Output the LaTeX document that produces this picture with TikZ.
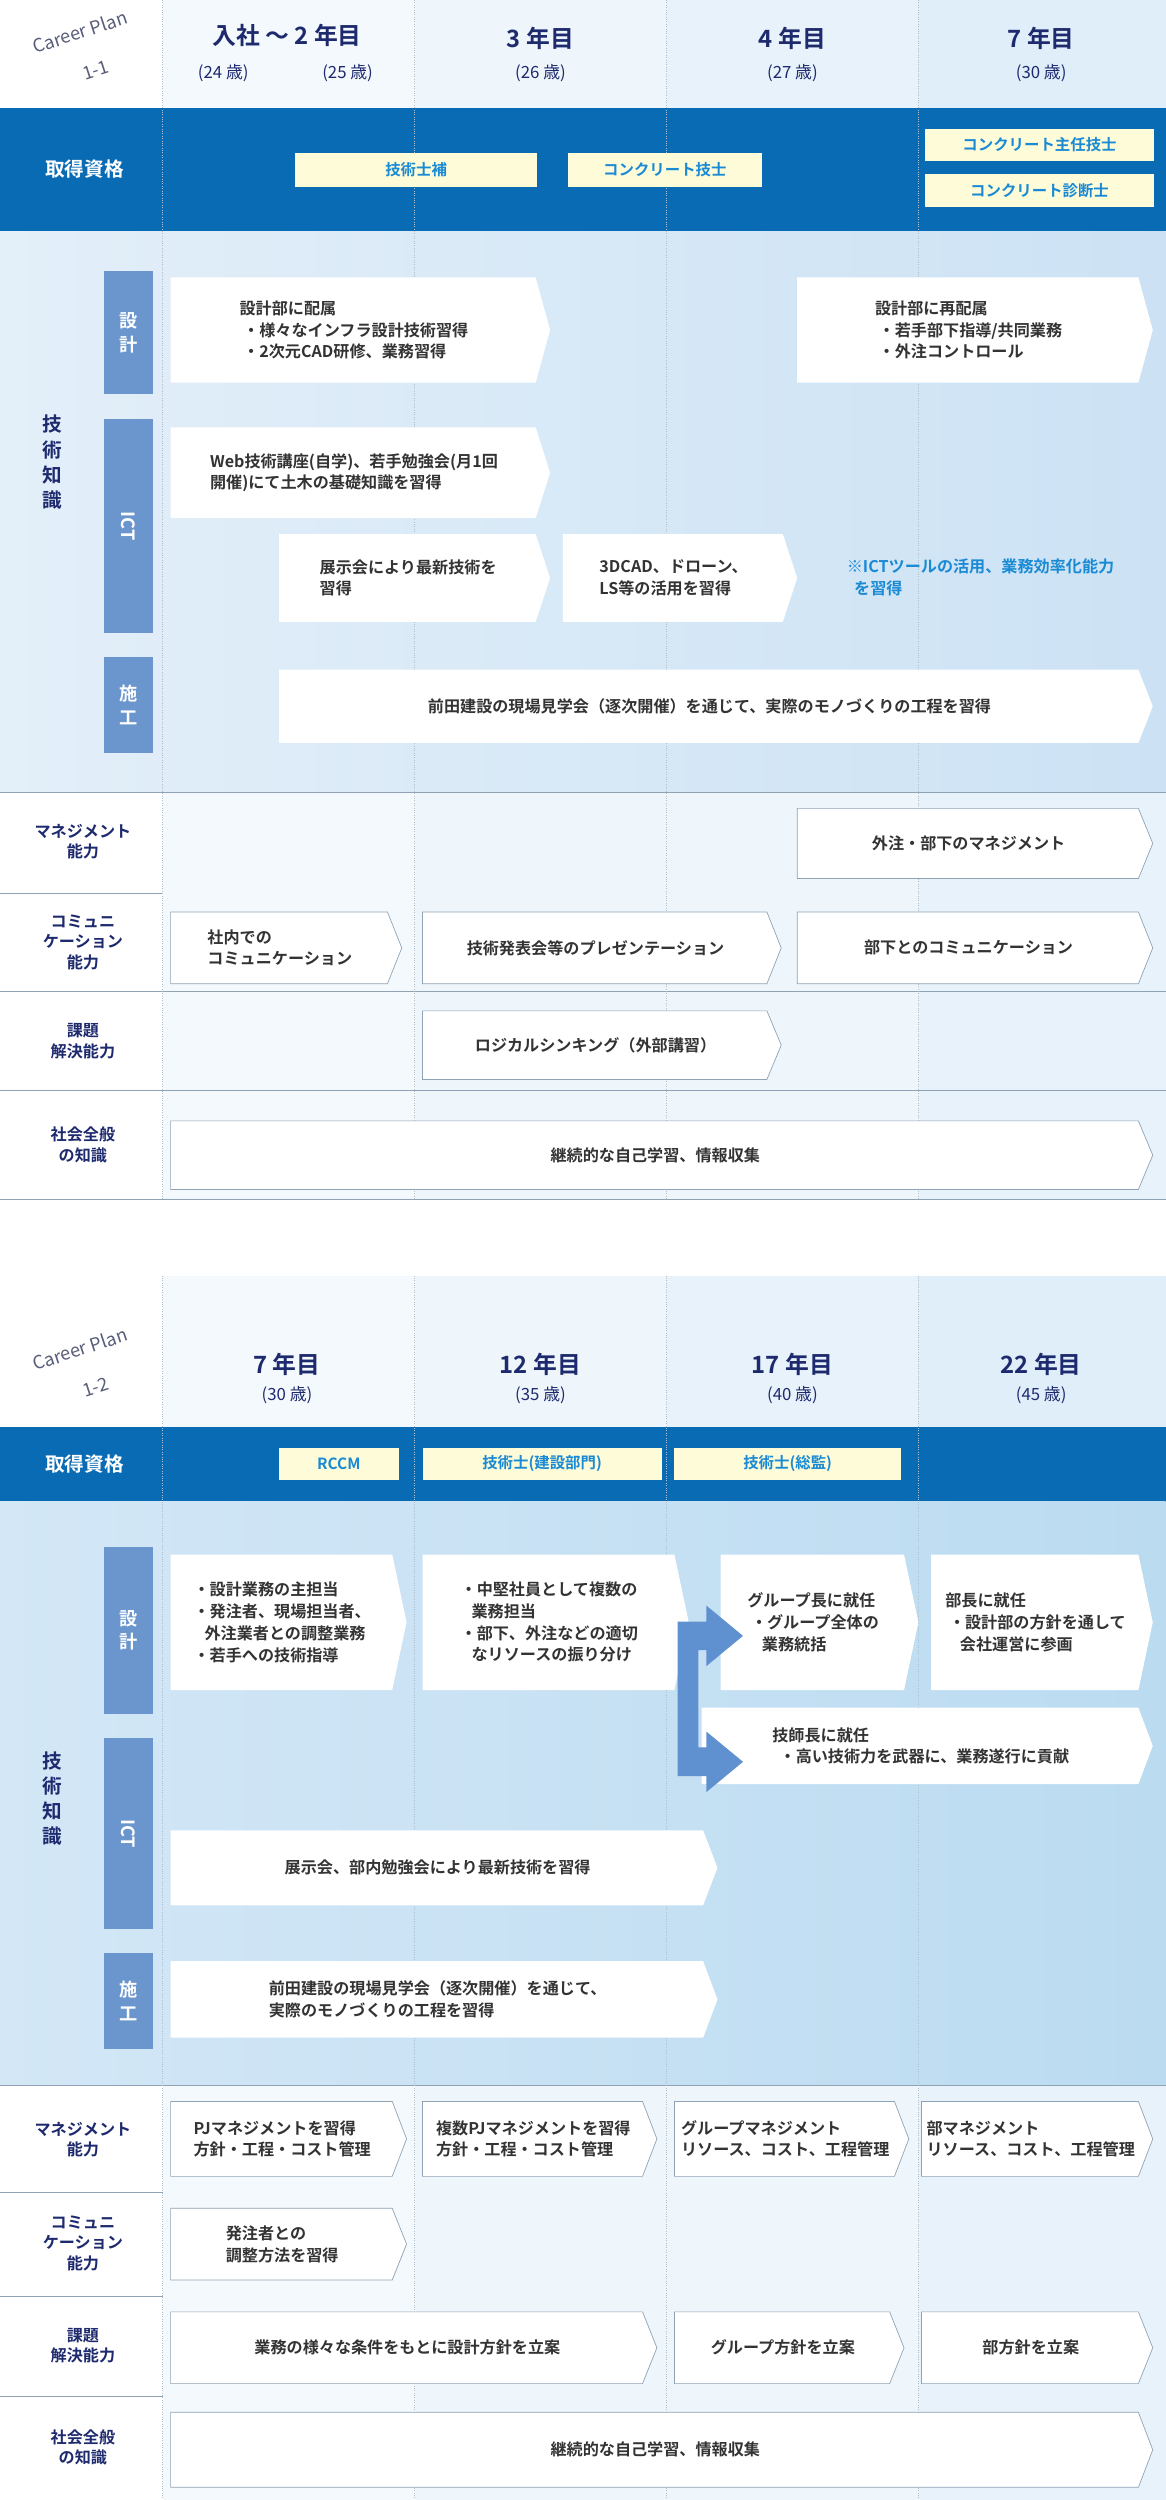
\documentclass[tikz,border=0pt]{standalone}
\usepackage{fontspec}
\setmainfont{Noto Sans CJK JP}[BoldFont={Noto Sans CJK JP Bold}]
\definecolor{band}{HTML}{0A6BB5}
\definecolor{lab}{HTML}{6A96CD}
\definecolor{yel}{HTML}{FDFBD8}
\definecolor{ytx}{HTML}{1A8AD4}
\definecolor{navy}{HTML}{1E2A6E}
\definecolor{tx}{HTML}{333333}
\definecolor{arrc}{HTML}{5F90CF}
\definecolor{c1}{HTML}{F4F9FD}
\definecolor{c2}{HTML}{EEF5FB}
\definecolor{c3}{HTML}{E8F2FA}
\definecolor{c4}{HTML}{E0EEF9}
\definecolor{t1l}{HTML}{E3EFF9}
\definecolor{t1r}{HTML}{CCE2F4}
\definecolor{t2l}{HTML}{D3E7F6}
\definecolor{t2r}{HTML}{BBDBF1}
\definecolor{rl}{HTML}{8FA3B5}
\tikzset{
 x=0.04cm,y=0.04cm,
 txt/.style={font=\fontsize{11.5}{15.5}\selectfont\bfseries,text=tx,align=left},
 hd/.style={font=\fontsize{17}{19}\selectfont\bfseries,text=navy},
 age/.style={font=\fontsize{12}{14}\selectfont,text=navy},
 lbl/.style={font=\fontsize{11.5}{14.5}\selectfont\bfseries,text=navy,align=center},
 ybox/.style={fill=yel,draw=none,font=\fontsize{11}{13}\selectfont\bfseries,text=ytx},
 sub/.style={fill=lab,text=white,font=\fontsize{13}{17}\selectfont\bfseries,align=center},
 cp/.style={font=\fontsize{13}{17}\selectfont\itshape,text=navy!40!gray,rotate=18,inner sep=0pt},
}
\newcommand\pbox[7][]{%
 \fill[white] (#3,-#4) -- ({#5-9},-#4) -- (#5,{-(#4+#6)/2}) -- ({#5-9},-#6) -- (#3,-#6) -- cycle;
 \node[txt,#1] (#2) at ({(#3+#5)/2-4},{-(#4+#6)/2}) {#7};}
\newcommand\obox[7][]{%
 \filldraw[fill=white,draw=rl,line width=0.5pt] (#3,-#4) -- ({#5-9},-#4) -- (#5,{-(#4+#6)/2}) -- ({#5-9},-#6) -- (#3,-#6) -- cycle;
 \node[txt,#1] (#2) at ({(#3+#5)/2-4},{-(#4+#6)/2}) {#7};}
\newcommand\yb[6]{\node[ybox,minimum width={(#4-#2)*0.04cm},minimum height={(#5-#3)*0.04cm},inner sep=0] (#1) at ({(#2+#4)/2},{-(#3+#5)/2}) {#6};}
\newcommand\sublab[6]{\node[sub,minimum width={(#4-#2)*0.04cm},minimum height={(#5-#3)*0.04cm},inner sep=0] (#1) at ({(#2+#4)/2},{-(#3+#5)/2}) {#6};}
\begin{document}
\begin{tikzpicture}
\useasboundingbox (0,0) rectangle (731,-1568);
\fill[white] (0,0) rectangle (731,-1568);
% ================= SECTION 1 =================
\fill[c1] (102,0) rectangle (260,-68);
\fill[c2] (260,0) rectangle (418,-68);
\fill[c3] (418,0) rectangle (576,-68);
\fill[c4] (576,0) rectangle (731,-68);
\fill[band] (0,-68) rectangle (731,-145);
\shade[left color=t1l, right color=t1r] (0,-145) rectangle (731,-497);
\foreach \a/\b in {497/560,560/622,622/684,684/752}{
 \fill[c1] (102,-\a) rectangle (260,-\b);
 \fill[c2] (260,-\a) rectangle (418,-\b);
 \fill[c2] (418,-\a) rectangle (576,-\b);
 \fill[c3] (576,-\a) rectangle (731,-\b);
 \draw[rl,line width=0.5pt] (0,-\b) -- (731,-\b);}
\draw[rl,line width=0.5pt] (0,-497) -- (731,-497);
\foreach \x in {102,260,418,576}{\draw[rl!70,densely dotted,line width=0.7pt] (\x,0) -- (\x,-752);}
% header
\node[cp] (cp1a) at (50,-20) {Career Plan};
\node[cp] (cp1b) at (60,-44) {1-1};
\node[hd] (h11) at (180,-22) {入社 〜 2 年目};
\node[age] (h11a) at (140,-46) {(24 歳)};
\node[age] (h11b) at (218,-46) {(25 歳)};
\node[hd] (h12) at (339,-24) {3 年目};
\node[age] (h12a) at (339,-46) {(26 歳)};
\node[hd] (h13) at (497,-24) {4 年目};
\node[age] (h13a) at (497,-46) {(27 歳)};
\node[hd] (h14) at (653,-24) {7 年目};
\node[age] (h14a) at (653,-46) {(30 歳)};
\node[font=\fontsize{14}{16}\selectfont\bfseries,text=white] (q1) at (53,-106) {取得資格};
\yb{y1}{185}{96}{337}{117}{技術士補}
\yb{y2}{356}{96}{478}{117}{コンクリート技士}
\yb{y3}{580}{81}{724}{101}{コンクリート主任技士}
\yb{y4}{580}{109}{724}{130}{コンクリート診断士}
% tech
\node[lbl,font=\fontsize{14}{18}\selectfont\bfseries] (t1) at (33,-290) {技\\術\\知\\識};
\sublab{s11}{65}{170}{96}{247}{設\\計}
\sublab{s12}{65}{263}{96}{397}{}
\node[text=white,font=\fontsize{13}{15}\selectfont\bfseries,rotate=-90] (s12t) at (s12) {ICT};
\sublab{s13}{65}{412}{96}{472}{施\\工}
\pbox{b1}{107}{174}{345}{240}{設計部に配属\\\ ・様々なインフラ設計技術習得\\\ ・2次元CAD研修、業務習得}
\pbox{b2}{500}{174}{723}{240}{設計部に再配属\\\ ・若手部下指導/共同業務\\\ ・外注コントロール}
\pbox{b3}{107}{268}{345}{325}{Web技術講座(自学)、若手勉強会(月1回\\開催)にて土木の基礎知識を習得}
\pbox{b4}{175}{335}{345}{390}{展示会により最新技術を\\習得}
\pbox{b5}{353}{335}{500}{390}{3DCAD、ドローン、\\LS等の活用を習得}
\node[txt,text=ytx] (b6) at (615,-362) {※ICTツールの活用、業務効率化能力\\\ \ を習得};
\pbox{b7}{175}{420}{723}{466}{前田建設の現場見学会（逐次開催）を通じて、実際のモノづくりの工程を習得}
% rows
\node[lbl] (r11) at (52,-528) {マネジメント\\能力};
\node[lbl] (r12) at (52,-591) {コミュニ\\ケーション\\能力};
\node[lbl] (r13) at (52,-653) {課題\\解決能力};
\node[lbl] (r14) at (52,-718) {社会全般\\の知識};
\obox{m1}{500}{507}{723}{551}{外注・部下のマネジメント}
\obox{c11}{107}{572}{252}{617}{社内での\\コミュニケーション}
\obox{c12}{265}{572}{490}{617}{技術発表会等のプレゼンテーション}
\obox{c13}{500}{572}{723}{617}{部下とのコミュニケーション}
\obox{k1}{265}{634}{490}{677}{ロジカルシンキング（外部講習）}
\obox{z1}{107}{703}{723}{746}{継続的な自己学習、情報収集}
% ================= SECTION 2 =================
\fill[c1] (102,-800) rectangle (260,-895);
\fill[c2] (260,-800) rectangle (418,-895);
\fill[c3] (418,-800) rectangle (576,-895);
\fill[c4] (576,-800) rectangle (731,-895);
\fill[band] (0,-895) rectangle (731,-942);
\shade[left color=t2l, right color=t2r] (0,-942) rectangle (731,-1308);
\foreach \a/\b in {1308/1375,1375/1440,1440/1503,1503/1568}{
 \fill[c1] (102,-\a) rectangle (260,-\b);
 \fill[c2] (260,-\a) rectangle (418,-\b);
 \fill[c2] (418,-\a) rectangle (576,-\b);
 \fill[c3] (576,-\a) rectangle (731,-\b);
 \draw[rl,line width=0.5pt] (0,-\b) -- (731,-\b);}
\draw[rl,line width=0.5pt] (0,-1308) -- (731,-1308);
\foreach \x in {102,260,418,576}{\draw[rl!70,densely dotted,line width=0.7pt] (\x,-800) -- (\x,-1568);}
\node[cp] (cp2a) at (50,-846) {Career Plan};
\node[cp] (cp2b) at (60,-870) {1-2};
\node[hd] (h21) at (180,-856) {7 年目};
\node[age] (h21a) at (180,-875) {(30 歳)};
\node[hd] (h22) at (339,-856) {12 年目};
\node[age] (h22a) at (339,-875) {(35 歳)};
\node[hd] (h23) at (497,-856) {17 年目};
\node[age] (h23a) at (497,-875) {(40 歳)};
\node[hd] (h24) at (653,-856) {22 年目};
\node[age] (h24a) at (653,-875) {(45 歳)};
\node[font=\fontsize{14}{16}\selectfont\bfseries,text=white] (q2) at (53,-918) {取得資格};
\yb{y21}{175}{908}{250}{928}{RCCM}
\yb{y22}{265}{908}{415}{928}{技術士(建設部門)}
\yb{y23}{423}{908}{565}{928}{技術士(総監)}
\node[lbl,font=\fontsize{14}{18}\selectfont\bfseries] (t2) at (33,-1128) {技\\術\\知\\識};
\sublab{s21}{65}{970}{96}{1075}{設\\計}
\sublab{s22}{65}{1090}{96}{1210}{}
\node[text=white,font=\fontsize{13}{15}\selectfont\bfseries,rotate=-90] (s22t) at (s22) {ICT};
\sublab{s23}{65}{1225}{96}{1285}{施\\工}
\pbox{d1}{107}{975}{255}{1060}{・設計業務の主担当\\・発注者、現場担当者、\\\ \ \ 外注業者との調整業務\\・若手への技術指導}
\pbox{d2}{265}{975}{432}{1060}{・中堅社員として複数の\\\ \ \ 業務担当\\・部下、外注などの適切\\\ \ \ なリソースの振り分け}
\pbox{d3}{452}{975}{576}{1060}{グループ長に就任\\\ ・グループ全体の\\\ \ \ \ 業務統括}
\pbox{d4}{584}{975}{723}{1060}{部長に就任\\\ ・設計部の方針を通して\\\ \ \ \ 会社運営に参画}
\pbox{d5}{440}{1071}{723}{1119}{技師長に就任\\\ \ ・高い技術力を武器に、業務遂行に貢献}
\fill[arrc] (425,-1017) -- (443,-1017) -- (443,-1007) -- (466,-1026) -- (443,-1045) -- (443,-1035) -- (438,-1035) -- (438,-1096) -- (443,-1096) -- (443,-1086) -- (466,-1105) -- (443,-1124) -- (443,-1114) -- (425,-1114) -- cycle;
\pbox{d6}{107}{1148}{450}{1195}{展示会、部内勉強会により最新技術を習得}
\pbox{d7}{107}{1230}{450}{1278}{前田建設の現場見学会（逐次開催）を通じて、\\実際のモノづくりの工程を習得}
\node[lbl] (r21) at (52,-1342) {マネジメント\\能力};
\node[lbl] (r22) at (52,-1407) {コミュニ\\ケーション\\能力};
\node[lbl] (r23) at (52,-1471) {課題\\解決能力};
\node[lbl] (r24) at (52,-1535) {社会全般\\の知識};
\obox{p1}{107}{1318}{255}{1365}{PJマネジメントを習得\\方針・工程・コスト管理}
\obox{p2}{265}{1318}{412}{1365}{複数PJマネジメントを習得\\方針・工程・コスト管理}
\obox{p3}{423}{1318}{570}{1365}{グループマネジメント\\リソース、コスト、工程管理}
\obox{p4}{578}{1318}{723}{1365}{部マネジメント\\リソース、コスト、工程管理}
\obox{e1}{107}{1385}{255}{1430}{発注者との\\調整方法を習得}
\obox{f1}{107}{1450}{412}{1495}{業務の様々な条件をもとに設計方針を立案}
\obox{f2}{423}{1450}{567}{1495}{グループ方針を立案}
\obox{f3}{578}{1450}{723}{1495}{部方針を立案}
\obox{z2}{107}{1513}{723}{1560}{継続的な自己学習、情報収集}
\end{tikzpicture}
\end{document}
